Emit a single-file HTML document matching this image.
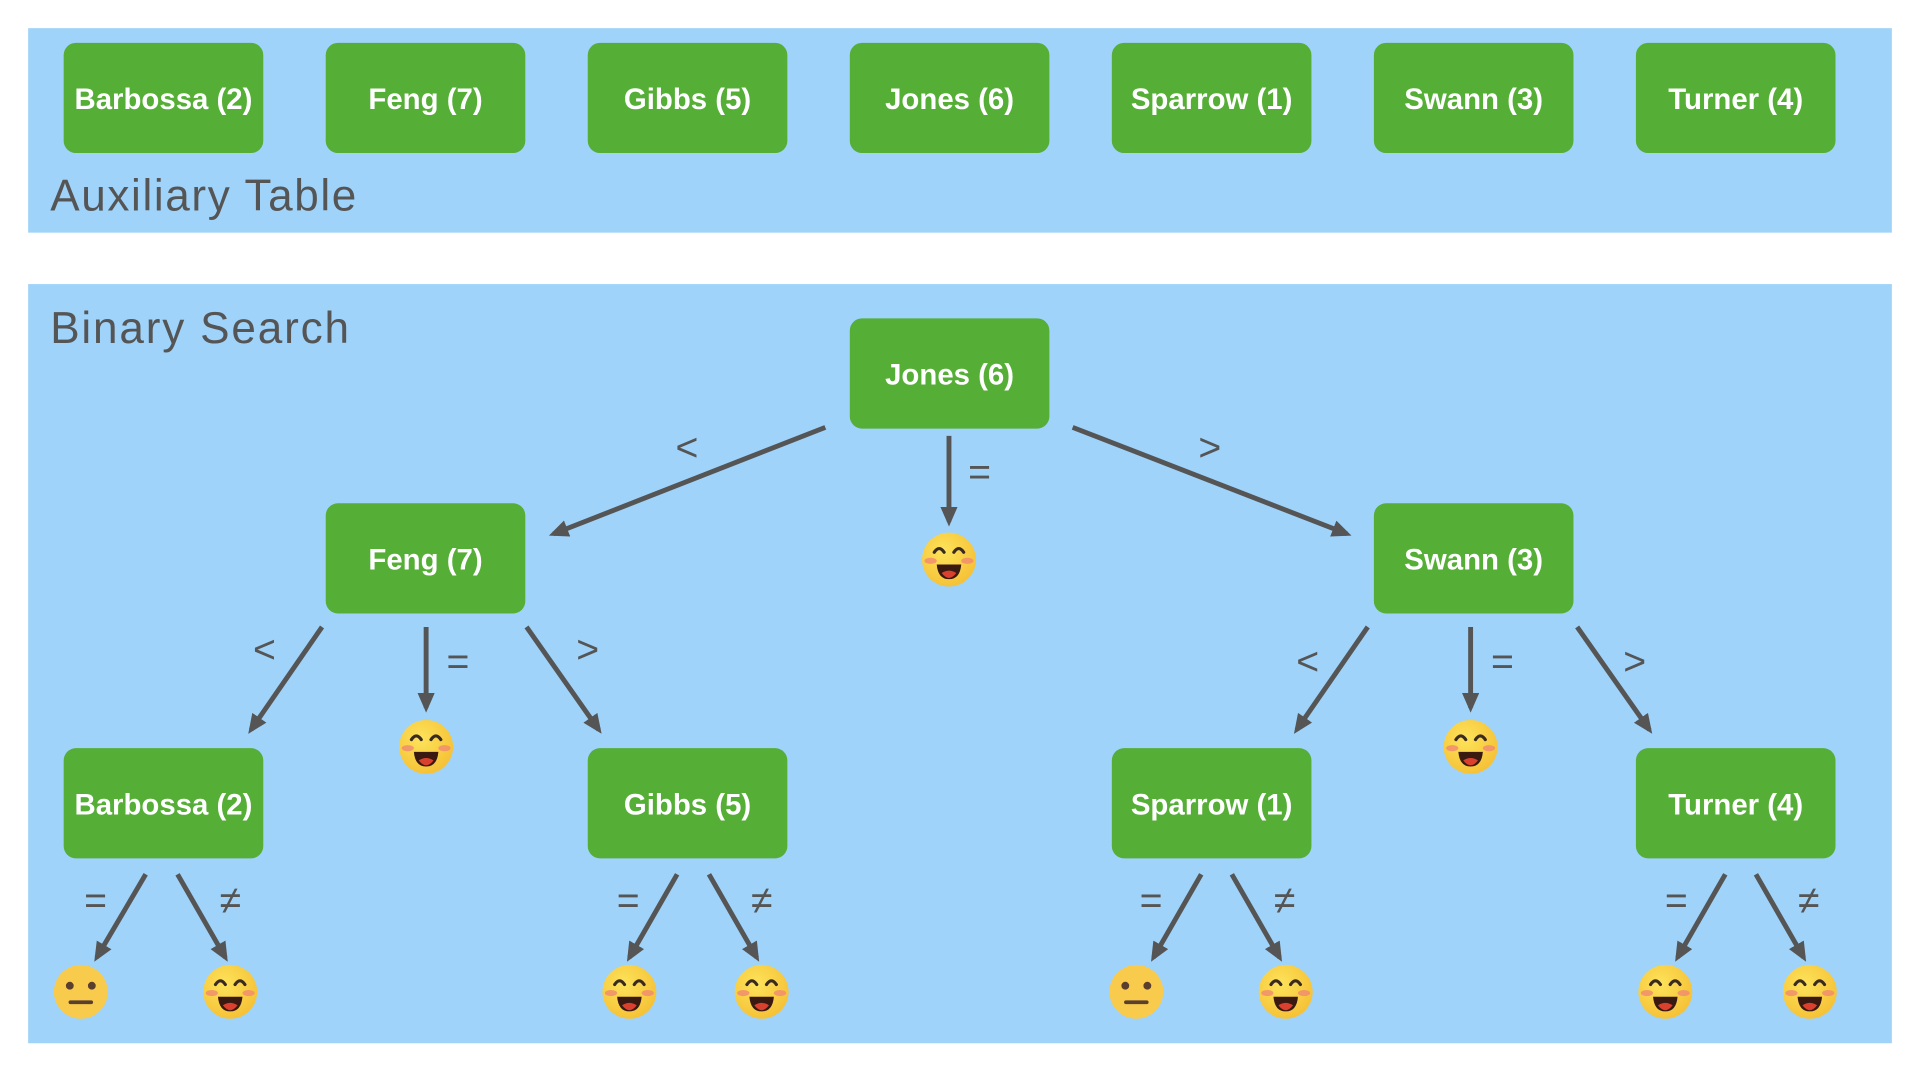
<!DOCTYPE html>
<html><head><meta charset="utf-8"><style>html,body{margin:0;padding:0;background:#fff;width:1920px;height:1080px;overflow:hidden}</style></head>
<body>
<svg width="1920" height="1080" viewBox="0 0 1568 882" xmlns="http://www.w3.org/2000/svg">
<defs>
<marker id="ah" markerWidth="16" markerHeight="14" refX="12" refY="7" orient="auto" markerUnits="userSpaceOnUse"><path d="M0,0 L16,7 L0,14 Z" fill="#555"/></marker>
<radialGradient id="yg" cx="40%" cy="35%" r="70%"><stop offset="0" stop-color="#fde35a"/><stop offset="1" stop-color="#f5c035"/></radialGradient>
<g id="happy"><circle r="22" fill="url(#yg)"/><path d="M-12,-6 q4,-6 8,0 M4,-6 q4,-6 8,0" stroke="#3a2a20" stroke-width="2.6" fill="none" stroke-linecap="round"/><ellipse cx="-15" cy="1" rx="5" ry="2.5" fill="#f08a70" opacity=".8"/><ellipse cx="15" cy="1" rx="5" ry="2.5" fill="#f08a70" opacity=".8"/><path d="M-10,4 L10,4 Q9,16 0,16 Q-9,16 -10,4 Z" fill="#3a1a10"/><path d="M-6,11 Q0,7 6,11 Q3,15 0,15 Q-3,15 -6,11Z" fill="#d9412e"/></g>
<g id="meh"><circle r="22" fill="#f9cb4c"/><circle cx="-9" cy="-5" r="3.2" fill="#5a3f2e"/><circle cx="9" cy="-5" r="3.2" fill="#5a3f2e"/><rect x="-10" y="7" width="20" height="3" rx="1.5" fill="#5a3f2e"/></g>
</defs>
<rect x="23" y="23" width="1522" height="167" fill="#9fd3fa"/>
<rect x="23" y="232" width="1522" height="620" fill="#9fd3fa"/>
<g font-family="Liberation Sans, sans-serif" fill="#555" font-size="36">
<text x="41" y="172" textLength="250">Auxiliary Table</text>
<text x="41" y="280" textLength="244">Binary Search</text>
</g>
<g fill="#55ae35">
<rect x="52" y="35" width="163" height="90" rx="10"/><rect x="266" y="35" width="163" height="90" rx="10"/><rect x="480" y="35" width="163" height="90" rx="10"/><rect x="694" y="35" width="163" height="90" rx="10"/><rect x="908" y="35" width="163" height="90" rx="10"/><rect x="1122" y="35" width="163" height="90" rx="10"/><rect x="1336" y="35" width="163" height="90" rx="10"/>
<rect x="694" y="260" width="163" height="90" rx="10"/>
<rect x="266" y="411" width="163" height="90" rx="10"/><rect x="1122" y="411" width="163" height="90" rx="10"/>
<rect x="52" y="611" width="163" height="90" rx="10"/><rect x="480" y="611" width="163" height="90" rx="10"/><rect x="908" y="611" width="163" height="90" rx="10"/><rect x="1336" y="611" width="163" height="90" rx="10"/>
</g>
<g font-family="Liberation Sans, sans-serif" font-weight="bold" fill="#fff" font-size="24" text-anchor="middle">
<text x="133.5" y="89">Barbossa (2)</text><text x="347.5" y="89">Feng (7)</text><text x="561.5" y="89">Gibbs (5)</text><text x="775.5" y="89">Jones (6)</text><text x="989.5" y="89">Sparrow (1)</text><text x="1203.5" y="89">Swann (3)</text><text x="1417.5" y="89">Turner (4)</text>
<text x="775.5" y="314">Jones (6)</text>
<text x="347.5" y="465">Feng (7)</text><text x="1203.5" y="465">Swann (3)</text>
<text x="133.5" y="665">Barbossa (2)</text><text x="561.5" y="665">Gibbs (5)</text><text x="989.5" y="665">Sparrow (1)</text><text x="1417.5" y="665">Turner (4)</text>
</g>
<g stroke="#555" stroke-width="4" marker-end="url(#ah)">
<line x1="674" y1="349" x2="452" y2="436"/><line x1="775" y1="356" x2="775" y2="426"/><line x1="876" y1="349" x2="1100" y2="436"/>
<line x1="263" y1="512" x2="205" y2="596"/><line x1="348" y1="512" x2="348" y2="578"/><line x1="430" y1="512" x2="489" y2="596"/>
<line x1="1117" y1="512" x2="1059" y2="596"/><line x1="1201" y1="512" x2="1201" y2="578"/><line x1="1288" y1="512" x2="1347" y2="596"/>
<line x1="119" y1="714" x2="79" y2="782"/><line x1="145" y1="714" x2="184" y2="782"/>
<line x1="553" y1="714" x2="514" y2="782"/><line x1="579" y1="714" x2="618" y2="782"/>
<line x1="981" y1="714" x2="942" y2="782"/><line x1="1006" y1="714" x2="1045" y2="782"/>
<line x1="1409" y1="714" x2="1370" y2="782"/><line x1="1434" y1="714" x2="1473" y2="782"/>
</g>
<g font-family="Liberation Sans, DejaVu Sans, sans-serif" fill="#555" font-size="32" text-anchor="middle">
<text x="561" y="376">&lt;</text><text x="800" y="396">=</text><text x="988" y="376">&gt;</text>
<text x="216" y="541">&lt;</text><text x="374" y="551">=</text><text x="480" y="541">&gt;</text>
<text x="1068" y="551">&lt;</text><text x="1227" y="551">=</text><text x="1335" y="551">&gt;</text>
<text x="78" y="746">=</text><text x="188" y="746">≠</text>
<text x="513" y="746">=</text><text x="622" y="746">≠</text>
<text x="940" y="746">=</text><text x="1049" y="746">≠</text>
<text x="1369" y="746">=</text><text x="1477" y="746">≠</text>
</g>
<use href="#happy" x="775" y="457"/><use href="#happy" x="348" y="610"/><use href="#happy" x="1201" y="610"/>
<use href="#meh" x="66" y="810"/><use href="#happy" x="188" y="810"/><use href="#happy" x="514" y="810"/><use href="#happy" x="622" y="810"/>
<use href="#meh" x="928" y="810"/><use href="#happy" x="1050" y="810"/><use href="#happy" x="1360" y="810"/><use href="#happy" x="1478" y="810"/>
</svg>
</body></html>
